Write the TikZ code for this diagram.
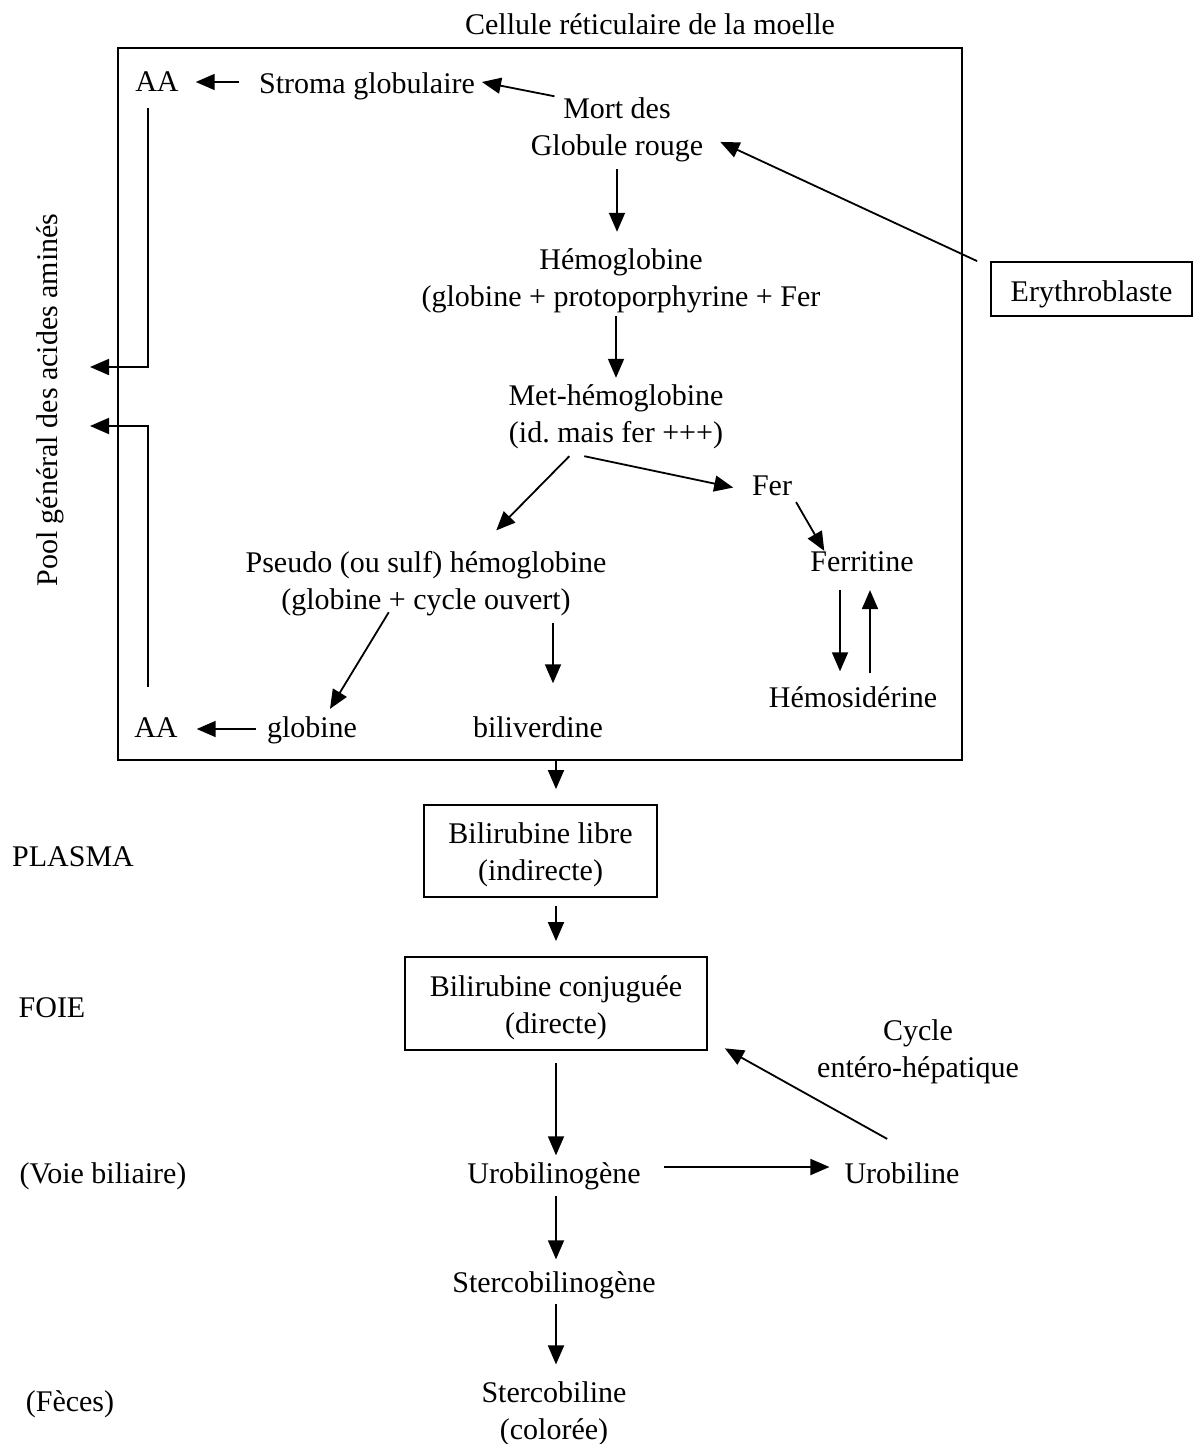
\documentclass[tikz,border=0pt]{standalone}
\usepackage{fontspec}
\setmainfont{Liberation Serif}
\usetikzlibrary{arrows.meta}
\newcommand{\haut}{\rule{0pt}{14.2pt}}

\begin{document}
\begin{tikzpicture}[x=0.5pt, y=-0.5pt,
    every node/.style={font=\fontsize{15}{18.5}\selectfont, align=center},
    mot/.style={text height=1.5ex, text depth=.25ex},
    motbas/.style={text height=12.3pt, text depth=0pt},
    boite/.style={draw, line width=0.9pt},
    fl/.style={-{Triangle[length=9.5pt, width=8pt]}, line width=0.9pt}]
        \useasboundingbox (0,0) rectangle (1194,1444);

        % Cellule reticulaire
        \node[mot] (titre) at (650,29) {Cellule réticulaire de la moelle};
        \node[boite, minimum width=422pt, minimum height=356pt, inner sep=0pt] (cell) at (540,404) {};
        \node[mot] (aaT) at (157,86) {AA};
        \node[mot] (stroma) at (367,88) {Stroma globulaire};
        \node (mort) at (617,130) {Mort des\\Globule rouge};
        \node[boite, motbas, minimum width=100.5pt, minimum height=27pt] (ery) at (1091.5,289) {Erythroblaste};
        \node (hb) at (621,281) {Hémoglobine\\(globine + protoporphyrine + Fer};
        \node (methb) at (616,417) {Met-hémoglobine\\(id.\ mais fer +++)};
        \node[mot] (fer) at (772,490) {Fer};
        \node[mot] (ferri) at (862,566) {Ferritine};
        \node[mot] (hemos) at (853,702) {Hémosidérine};
        \node (pseudo) at (426,584) {Pseudo (ou sulf) hémoglobine\\(globine + cycle ouvert)};
        \node[mot] (globine) at (312,732) {globine};
        \node[mot] (aaB) at (156,732) {AA};
        \node[mot] (bili) at (538,732) {biliverdine};
        \node[mot, rotate=90] (pool) at (52,400) {Pool général des acides aminés};
        \coordinate (poolA) at (90,367);
        \coordinate (poolB) at (90,426);

        % Plasma, foie, voie biliaire
        \node[boite, minimum width=116.5pt, minimum height=46pt] (libre) at (540.5,851) {\haut Bilirubine libre\\(indirecte)};
        \node[boite, minimum width=151pt, minimum height=46.5pt] (conj) at (556,1003.5) {\haut Bilirubine conjuguée\\(directe)};
        \node (cycle) at (918,1052) {Cycle\\entéro-hépatique};
        \node[mot] (urogene) at (554,1178) {Urobilinogène};
        \node[mot] (urobiline) at (902,1178) {Urobiline};
        \node[mot] (sterco) at (554,1287) {Stercobilinogène};
        \node (stercob) at (554,1414) {Stercobiline\\(colorée)};

        \node[mot] (plasma) at (73,861) {PLASMA};
        \node[mot] (foie) at (52,1012) {FOIE};
        \node[mot] (voie) at (103,1178) {(Voie biliaire)};
        \node[mot] (feces) at (70,1406) {(Fèces)};

        % Fleches dans la cellule
        \draw[fl, shorten <=6.5pt, shorten >=5pt] ([yshift=3pt]stroma.west) -- ([yshift=3pt]stroma.west -| aaT.east);
        \draw[fl] ([xshift=15.4pt, yshift=-2.75pt]mort.north west) -- ([yshift=3pt]stroma.east);
        \draw[fl, shorten >=5.5pt] ([xshift=-6.5pt]ery.north west) -- ([yshift=-3.65pt]mort.east);
        \draw[fl, shorten >=5pt] (mort.south) -- (mort.south |- hb.north);
        \draw[fl, shorten <=-2pt] (methb.north |- hb.south) -- (methb.north);
        \draw[fl, shorten >=10pt] (methb.220) -- (pseudo.35);
        \draw[fl, shorten >=6pt] (methb.231) -- (fer.west);
        \draw[fl] ([xshift=-1.5pt, yshift=1.5pt]fer.south east) -- ([xshift=10.5pt]ferri.north west);
        \draw[fl, shorten <=4.5pt, shorten >=7.8pt] ([xshift=-11pt]ferri.south) -- ([xshift=-11pt]ferri.south |- hemos.north);
        \draw[fl, shorten <=6.8pt, shorten >=4.5pt] ([xshift=4pt]ferri.south |- hemos.north) -- ([xshift=4pt]ferri.south);
        \draw[fl, shorten <=-6.5pt, shorten >=4.7pt] ([xshift=-22pt]pseudo.south) -- ([xshift=-1pt]globine.45);
        \draw[fl, shorten <=2pt, shorten >=6pt] ([yshift=1.5pt]globine.west) -- ([yshift=1.5pt]globine.west -| aaB.east);
        \draw[fl, shorten >=16.8pt] ([xshift=7.5pt]bili.north |- pseudo.south) -- ([xshift=7.5pt]bili.north);

        % Vers le pool
        \draw[fl, shorten <=3.5pt] ([xshift=-4.5pt]aaT.south) |- (poolA);
        \draw[fl, shorten <=15pt] ([xshift=-4pt]aaB.north) |- (poolB);

        % Degradation de la bilirubine
        \draw[fl, shorten >=7.5pt] (cell.south -| conj.north) -- (libre.north -| conj.north);
        \draw[fl, shorten <=4pt, shorten >=7.5pt] (libre.south -| conj.north) -- (conj.north);
        \draw[fl, shorten <=6pt, shorten >=3.8pt] (conj.south) -- (conj.south |- urogene.north);
        \draw[fl, shorten <=8pt, shorten >=4pt] ([yshift=5.5pt]urogene.east) -- ([yshift=5.5pt]urogene.east -| urobiline.west);
        \draw[fl, shorten <=24.6pt, shorten >=9.7pt] ([xshift=14.1pt]urobiline.north) -- ([yshift=6pt]conj.south east);
        \draw[fl, shorten <=1.5pt, shorten >=6.3pt] (conj.south |- urogene.south) -- (conj.south |- sterco.north);
        \draw[fl, shorten <=1pt, shorten >=5.2pt] (conj.south |- sterco.south) -- (conj.south |- stercob.north);
\end{tikzpicture}
\end{document}
